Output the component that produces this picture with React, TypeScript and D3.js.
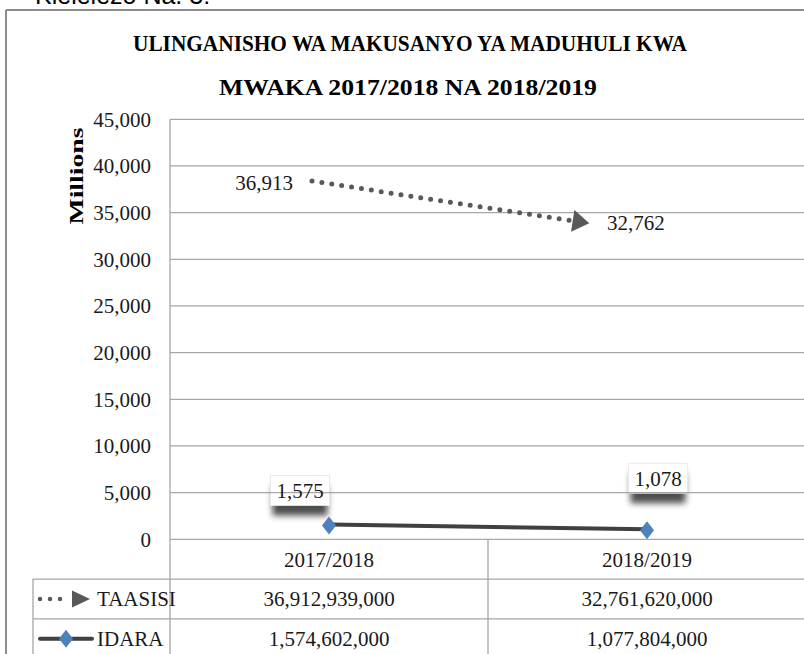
import React from "react";
import * as d3 from "d3";

// chart data (values in TSh)
const categories = ["2017/2018", "2018/2019"];
const seriesNames = ["TAASISI", "IDARA"];
const taasisiValues = [36912939000, 32761620000];
const idaraValues = [1574602000, 1077804000];
const yTicks = [0, 5000, 10000, 15000, 20000, 25000, 30000, 35000, 40000, 45000];

const titleLines = [
    "ULINGANISHO WA MAKUSANYO YA MADUHULI KWA",
    "MWAKA 2017/2018 NA 2018/2019",
];

const W = 804;
const H = 654;
const plotLeft = 170;
const plotRight = 806;
const plotTop = 119.3;
const plotBottom = 539.3;
const tableLeft = 33;
const rowH = 39.8;

const serif = "'Liberation Serif', 'DejaVu Serif', serif";
const fontSize = 21;
const gridColor = "#a6a6a6";
const taasisiColor = "#595959";
const idaraColor = "#404040";
const diamondColor = "#4f81bd";

// label nudges for the IDARA call-outs (dragged by hand in the original)
const idaraNudge = [
    [-29, -34],
    [11, -51],
];

const diamond = {
    draw(ctx, size) {
        const h = Math.sqrt(size) * 0.75;
        const w = h * 0.78;
        ctx.moveTo(0, -h);
        ctx.lineTo(w, 0);
        ctx.lineTo(0, h);
        ctx.lineTo(-w, 0);
        ctx.closePath();
    },
};

const toMillions = (v) => v / 1e6;
const fmtLabel = d3.format(",.0f");
const fmtFull = d3.format(",");

const App = () => {
    const x = d3.scaleBand().domain(categories).range([plotLeft, plotRight]);
    const cx = (c) => x(c) + x.bandwidth() / 2;
    const y = d3.scaleLinear().domain([0, 45000]).range([plotBottom, plotTop]);

    // TAASISI arrow is drawn on its own inset axes, like in the source picture
    const xT = d3.scalePoint().domain(categories).range([plotLeft + 142, plotLeft + 411]);
    const yT = d3.scaleLinear().domain([0, 45000]).range([plotBottom + 6, plotTop - 18]);

    const line = d3.line();
    const taasisiPts = categories.map((c, i) => [xT(c), yT(toMillions(taasisiValues[i]))]);
    const idaraPts = categories.map((c, i) => [cx(c), y(toMillions(idaraValues[i]))]);

    const diamondPath = d3.symbol().type(diamond).size(144)();

    const rows = [0, 1, 2, 3].map((i) => plotBottom + i * rowH);
    const rowMid = (i) => plotBottom + i * rowH + rowH / 2;

    const boxW = 59;
    const boxH = 30;

    return (
        <svg width={W} height={H} style={{ position: "absolute", left: 0, top: 0, background: "#fff" }}>
            <defs>
                <filter id="shadowBlur" x="-30%" y="-80%" width="160%" height="260%">
                    <feGaussianBlur stdDeviation="3" />
                </filter>
                <marker id="arrowHead" markerUnits="userSpaceOnUse" markerWidth="18" markerHeight="22"
                    viewBox="0 0 16 21" refX="8" refY="10.5" orient="auto">
                    <path d="M0,0 L16,10.5 L0,21 Z" fill={taasisiColor} />
                </marker>
            </defs>

            {/* caption above the frame, cut off by the crop */}
            <text x={35} y={4} fontFamily="'Liberation Sans', sans-serif" fontSize={25} fill="#000">
                Kielelezo Na. 3:
            </text>

            {/* chart frame */}
            <line x1={6} x2={W} y1={10} y2={10} stroke="#8c8c8c" strokeWidth={2} />
            <line x1={6} x2={6} y1={10} y2={H} stroke="#8c8c8c" strokeWidth={2} />

            {/* title */}
            <text x={410} y={51} textAnchor="middle" fontFamily={serif} fontWeight="bold" fontSize={23.5}
                textLength={554} lengthAdjust="spacingAndGlyphs" fill="#000">
                {titleLines[0]}
            </text>
            <text x={408} y={95} textAnchor="middle" fontFamily={serif} fontWeight="bold" fontSize={23.5}
                textLength={378} lengthAdjust="spacingAndGlyphs" fill="#000">
                {titleLines[1]}
            </text>

            {/* IDARA call-out boxes (under the grid, like the original) */}
            {idaraPts.map((p, i) => {
                const bx = p[0] + idaraNudge[i][0] - boxW / 2;
                const by = p[1] + idaraNudge[i][1] - boxH / 2;
                return (
                    <g key={"box" + i}>
                        <rect x={bx + 2} y={by + 10} width={boxW - 4} height={boxH} fill="#3a3a3a"
                            opacity={0.9} filter="url(#shadowBlur)" />
                        <rect x={bx} y={by} width={boxW} height={boxH} fill="#fff" stroke="#e6e6e6" strokeWidth={0.8} />
                    </g>
                );
            })}

            {/* gridlines + y axis labels */}
            {yTicks.map((t) => (
                <g key={t}>
                    <line x1={plotLeft} x2={plotRight} y1={y(t)} y2={y(t)} stroke={gridColor} strokeWidth={1.3} />
                    <text x={151} y={y(t)} dy="0.35em" textAnchor="end" fontFamily={serif} fontSize={fontSize} fill="#1a1a1a">
                        {fmtFull(t)}
                    </text>
                </g>
            ))}

            <text transform={`translate(77,176) rotate(-90)`} textAnchor="middle" dy="0.35em" fontFamily={serif}
                fontWeight="bold" fontSize={18} textLength={97} lengthAdjust="spacingAndGlyphs" fill="#000">
                Millions
            </text>

            {/* data table */}
            <line x1={plotLeft} x2={plotLeft} y1={plotTop} y2={H} stroke={gridColor} strokeWidth={1.3} />
            <line x1={x(categories[1])} x2={x(categories[1])} y1={plotBottom} y2={H} stroke={gridColor} strokeWidth={1.3} />
            <line x1={tableLeft} x2={tableLeft} y1={rows[1]} y2={H} stroke={gridColor} strokeWidth={1.3} />
            {rows.slice(1).map((ry, i) => (
                <line key={"row" + i} x1={tableLeft} x2={W} y1={ry} y2={ry} stroke={gridColor} strokeWidth={1.3} />
            ))}
            {categories.map((c, i) => (
                <g key={c} fontFamily={serif} fontSize={fontSize} fill="#1a1a1a" textAnchor="middle">
                    <text x={cx(c)} y={rowMid(0)} dy="0.35em">{c}</text>
                    <text x={cx(c)} y={rowMid(1)} dy="0.35em">{fmtFull(taasisiValues[i])}</text>
                    <text x={cx(c)} y={rowMid(2)} dy="0.35em">{fmtFull(idaraValues[i])}</text>
                </g>
            ))}

            {/* legend keys in the table */}
            <line x1={40} x2={62} y1={rowMid(1)} y2={rowMid(1)} stroke={taasisiColor} strokeWidth={4.5}
                strokeLinecap="round" strokeDasharray="0 10" />
            <path d={`M72,${rowMid(1) - 8.5} L90,${rowMid(1)} L72,${rowMid(1) + 8.5} Z`} fill={taasisiColor} />
            <text x={97} y={rowMid(1)} dy="0.35em" fontFamily={serif} fontSize={fontSize} fill="#1a1a1a">{seriesNames[0]}</text>

            <line x1={40} x2={92} y1={rowMid(2)} y2={rowMid(2)} stroke={idaraColor} strokeWidth={4} strokeLinecap="round" />
            <path d={diamondPath} transform={`translate(66,${rowMid(2)})`} fill={diamondColor} />
            <text x={97} y={rowMid(2)} dy="0.35em" fontFamily={serif} fontSize={fontSize} fill="#1a1a1a">{seriesNames[1]}</text>

            {/* TAASISI series */}
            <path d={line(taasisiPts)} fill="none" stroke={taasisiColor} strokeWidth={5} strokeLinecap="round"
                strokeDasharray="0 10" markerEnd="url(#arrowHead)" />
            <text x={taasisiPts[0][0] - 19} y={taasisiPts[0][1] + 2} dy="0.35em" textAnchor="end" fontFamily={serif}
                fontSize={fontSize} fill="#1a1a1a">
                {fmtLabel(toMillions(taasisiValues[0]))}
            </text>
            <text x={taasisiPts[1][0] + 26} y={taasisiPts[1][1] + 1} dy="0.35em" textAnchor="start" fontFamily={serif}
                fontSize={fontSize} fill="#1a1a1a">
                {fmtLabel(toMillions(taasisiValues[1]))}
            </text>

            {/* IDARA series */}
            <path d={line(idaraPts)} fill="none" stroke={idaraColor} strokeWidth={4} />
            {idaraPts.map((p, i) => (
                <g key={"idara" + i}>
                    <path d={diamondPath} transform={`translate(${p[0]},${p[1] + 1})`} fill={diamondColor} />
                    <text x={p[0] + idaraNudge[i][0]} y={p[1] + idaraNudge[i][1]} dy="0.35em" textAnchor="middle"
                        fontFamily={serif} fontSize={fontSize} fill="#1a1a1a">
                        {fmtLabel(toMillions(idaraValues[i]))}
                    </text>
                </g>
            ))}
        </svg>
    );
};

export default App;
